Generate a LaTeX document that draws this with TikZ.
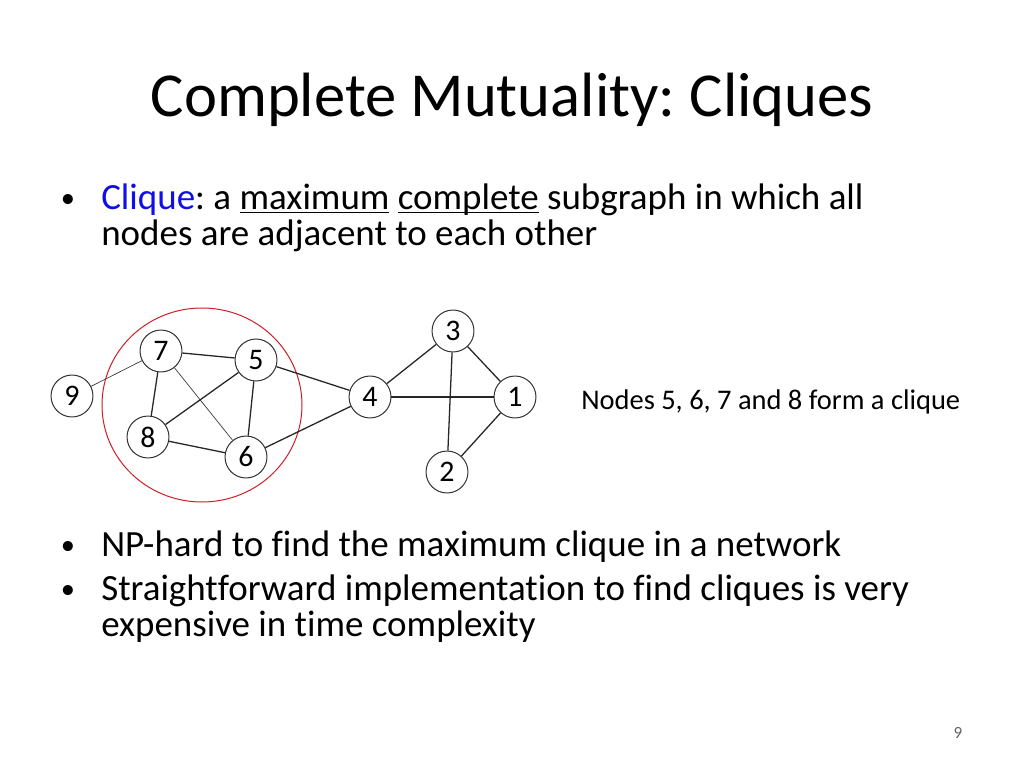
\documentclass[tikz,border=0pt]{standalone}
\usepackage{fontspec}
\setmainfont{Carlito}[Ligatures=NoCommon]
\definecolor{cliqueblue}{RGB}{16,16,230}
\definecolor{cliquered}{RGB}{205,30,40}
\newcommand{\slideul}[1]{\underline{\smash{#1}}}
\frenchspacing
\begin{document}
\begin{tikzpicture}[x=0.703125pt, y=-0.703125pt,
        vertex/.style={draw=black!80, circle, line width=0.7pt, minimum size=29.5pt, inner sep=0pt, font=\fontsize{21}{21}\selectfont},
        edge/.style={line width=0.9pt, black!85},
        thinedge/.style={line width=0.5pt, black!75},
        bodytext/.style={anchor=base west, inner sep=0pt, font=\fontsize{26}{26}\selectfont},
        bullet/.style={anchor=base, inner sep=0pt, font=\fontsize{20}{20}\selectfont}]
        \useasboundingbox[fill=white] (0,0) rectangle (1024,768);

        \node[anchor=base] (title) at (512,117) {\fontsize{44}{44}\selectfont Complete Mutuality: Cliques};

        \node[bullet] (b1) at (68,208) {\textbullet};
        \node[bodytext] (l1) at (101,210) {\textcolor{cliqueblue}{Clique}: a \slideul{maximum} \slideul{complete} subgraph in which all};
        \node[bodytext] (l2) at (101,246) {nodes are adjacent to each other};

        \node[bullet] (b2) at (68,554) {\textbullet};
        \node[bodytext] (l3) at (101,556) {NP-hard to find the maximum clique in a network};
        \node[bullet] (b3) at (68,598) {\textbullet};
        \node[bodytext] (l4) at (101,600) {Straightforward implementation to find cliques is very};
        \node[bodytext] (l5) at (101,636) {expensive in time complexity};

        % the clique
        \draw[cliquered, line width=0.7pt] (202,405) ellipse [x radius=100, y radius=97];

        \node[vertex] (n9) at (72,396) {9};
        \node[vertex] (n7) at (161,351) {7};
        \node[vertex] (n5) at (256,360) {5};
        \node[vertex] (n8) at (148,437) {8};
        \node[vertex] (n6) at (246,457) {6};
        \node[vertex] (n4) at (370,397) {4};
        \node[vertex] (n3) at (453,331) {3};
        \node[vertex] (n1) at (515,397) {1};
        \node[vertex] (n2) at (447,472) {2};

        \draw[thinedge] (n9) -- (n7);
        \draw[thinedge] (n7) -- (n6);
        \draw[edge] (n7) -- (n5);
        \draw[edge] (n7) -- (n8);
        \draw[edge] (n5) -- (n8);
        \draw[edge] (n5) -- (n6);
        \draw[edge] (n8) -- (n6);
        \draw[edge] (n5) -- (n4);
        \draw[edge] (n6) -- (n4);
        \draw[edge] (n4) -- (n3);
        \draw[edge] (n4) -- (n1);
        \draw[edge] (n3) -- (n1);
        \draw[edge] (n3) -- (n2);
        \draw[edge] (n1) -- (n2);

        \node[anchor=base west, inner sep=0pt, font=\fontsize{20}{20}\selectfont] (note) at (581,409) {Nodes 5, 6, 7 and 8 form a clique};

        \node[anchor=base, text=black!60] (page) at (958,738) {\fontsize{12}{12}\selectfont 9};

    \end{tikzpicture}
\end{document}
